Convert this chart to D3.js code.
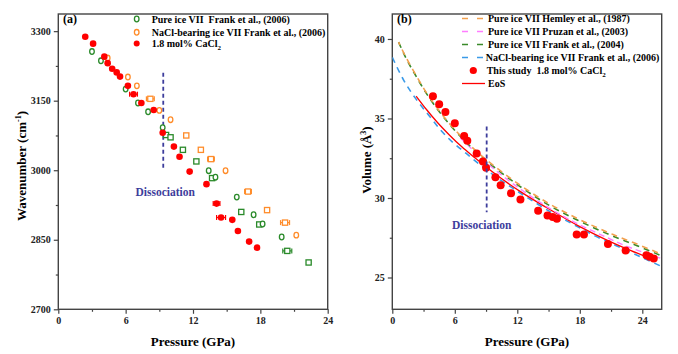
<!DOCTYPE html>
<html>
<head>
<meta charset="utf-8">
<script src="https://cdn.jsdelivr.net/npm/d3@7"></script>
<style>
  body { margin: 0; background: #fff; }
  svg text { font-family: "Liberation Serif", "Times New Roman", serif; font-weight: bold; }
</style>
</head>
<body>
<script>
// ---- panel (a) data : wavenumber vs pressure ----
var redP   = [2.4, 3.1, 4.1, 4.4, 4.8, 5.2, 5.5, 6.2, 6.7, 7.4, 8.5, 9.3, 10.3, 10.8, 11.7, 13.2, 14.1, 14.5, 15.5, 16.0, 17.0, 17.7];
var redW   = [3288, 3273, 3245, 3231, 3219, 3211, 3202, 3182, 3164, 3145, 3130, 3081, 3051, 3029, 2997, 2970, 2928, 2898, 2893, 2869, 2846, 2833];
var redErr = [0, 0, 0, 0, 0, 0, 0, 0, 0.35, 0, 0, 0, 0, 0, 0, 0, 0.3, 0.4, 0, 0, 0, 0];

var greenCircP = [3.0, 3.8, 6.0, 7.1, 8.0, 9.3, 13.4, 14.0, 15.9, 17.4, 18.2, 19.9];
var greenCircW = [3256, 3236, 3175, 3145, 3126, 3092, 2999, 2985, 2942, 2904, 2884, 2856];
var greenSqP   = [9.6, 10.0, 11.1, 12.3, 13.7, 16.3, 17.9, 20.4, 22.3];
var greenSqW   = [3076, 3071, 3044, 3019, 2983, 2910, 2883, 2826, 2801];
var greenSqErr = [0, 0, 0, 0, 0, 0, 0, 0.4, 0];

var orangeCircP = [4.4, 6.2, 7.0, 9.0, 10.0, 14.9, 21.2];
var orangeCircW = [3242, 3201, 3182, 3129, 3109, 2999, 2860];
var orangeSqP   = [8.2, 11.4, 12.7, 13.6, 16.9, 18.6, 20.2];
var orangeSqW   = [3154, 3075, 3044, 3024, 2954, 2914, 2887];
var orangeSqErr = [0.35, 0, 0, 0.3, 0.3, 0, 0.4];

var ticksA_x = [0, 6, 12, 18, 24];
var ticksA_y = [2700, 2850, 3000, 3150, 3300];

// ---- panel (b) data : volume vs pressure ----
var studyP = [3.9, 4.5, 5.1, 6.0, 6.9, 7.2, 8.1, 8.7, 9.0, 9.9, 10.4, 11.4, 12.3, 14.0, 14.9, 15.4, 15.8, 17.7, 18.4, 20.7, 22.4, 24.4, 24.7, 25.1];
var studyV = [36.4, 35.9, 35.4, 34.7, 33.9, 33.6, 32.8, 32.3, 31.9, 31.3, 30.8, 30.3, 29.9, 29.2, 28.9, 28.8, 28.7, 27.7, 27.7, 27.1, 26.7, 26.4, 26.3, 26.2];

var hemleyP = [0.6, 1.35, 2.2, 3.1, 4.2, 5.4, 6.8, 8.4, 10.3, 12.4, 14.9, 17.8, 21.2, 23.5, 25.9];
var hemleyV = [39.8, 38.8, 37.8, 36.8, 35.75, 34.75, 33.75, 32.75, 31.75, 30.75, 29.7, 28.7, 27.7, 27.1, 26.45];
var frank04V = [39.8, 38.75, 37.75, 36.75, 35.7, 34.7, 33.7, 32.7, 31.68, 30.66, 29.6, 28.6, 27.6, 27.0, 26.35];
var pruzanP = [6.5, 8, 10, 12, 14, 16, 18, 20, 22, 24, 25.8];
var pruzanV = [33.8, 32.85, 31.7, 30.7, 29.8, 29.0, 28.3, 27.7, 27.1, 26.6, 26.2];
var naclP = [0, 1.1, 2.3, 3.5, 4.6, 5.8, 7.1, 8.5, 10, 11.6, 13.5, 15.5, 17.5, 19.5, 21.5, 23.5, 26];
var naclV = [38.85, 37.4, 36.2, 35.2, 34.3, 33.5, 32.8, 32.05, 31.3, 30.6, 29.8, 29.0, 28.3, 27.6, 27.0, 26.4, 25.65];
var eosP = [2.3, 3.3, 4.4, 5.5, 6.7, 7.8, 9.7, 12.3, 14.8, 18.0, 20.6, 22.5, 24.8];
var eosV = [36.4, 35.55, 34.7, 33.95, 33.2, 32.6, 31.6, 30.4, 29.4, 28.2, 27.35, 26.8, 26.2];

var ticksB_x = [0, 6, 12, 18, 24];
var ticksB_y = [25, 30, 35, 40];

var RED = "#ff0000", GREEN = "#2a8a2a", ORANGE = "#ff8c2a", BLUE = "#3a9ae8",
    PINK = "#ff7dff", DGREEN = "#3a8a2a", LORANGE = "#f2a04e", DISS = "#3d3d9c", FRAME = "#444";

var svg = d3.select("body").append("svg").attr("width", 678).attr("height", 354);

function zip(a, b, c) { return a.map(function (v, i) { return {x: v, y: b[i], e: c ? c[i] : 0}; }); }

function frameAxes(g, x, y, xt, xminor, yt, yminor) {
  var ax = g.append("g").attr("transform", "translate(0," + y.range()[0] + ")");
  ax.call(d3.axisBottom(x).tickValues(xminor).tickSize(2.5).tickFormat(""));
  ax.call(function (s) { s.select(".domain").remove(); });
  var ax2 = g.append("g").attr("transform", "translate(0," + y.range()[0] + ")");
  ax2.call(d3.axisBottom(x).tickValues(xt).tickSize(4.5).tickPadding(3).tickFormat(d3.format("d")));
  ax2.select(".domain").remove();
  var ay = g.append("g").attr("transform", "translate(" + x.range()[0] + ",0)");
  ay.call(d3.axisLeft(y).tickValues(yminor).tickSize(2.5).tickFormat(""));
  ay.select(".domain").remove();
  var ay2 = g.append("g").attr("transform", "translate(" + x.range()[0] + ",0)");
  ay2.call(d3.axisLeft(y).tickValues(yt).tickSize(4.5).tickPadding(3).tickFormat(d3.format("d")));
  ay2.select(".domain").remove();
  g.selectAll(".tick line").attr("stroke", FRAME).attr("stroke-width", 1.2);
  g.selectAll(".tick text").attr("font-size", 10).attr("fill", "#222")
    .attr("font-family", "Liberation Serif").attr("font-weight", "bold");
  g.append("rect").attr("x", x.range()[0]).attr("y", y.range()[1])
    .attr("width", x.range()[1] - x.range()[0]).attr("height", y.range()[0] - y.range()[1])
    .attr("fill", "none").attr("stroke", FRAME).attr("stroke-width", 1.4);
}

function errBars(g, data, x, y, color) {
  var d = data.filter(function (p) { return p.e > 0; });
  g.selectAll(null).data(d).enter().append("line")
    .attr("x1", function (p) { return x(p.x - p.e); }).attr("x2", function (p) { return x(p.x + p.e); })
    .attr("y1", function (p) { return y(p.y); }).attr("y2", function (p) { return y(p.y); })
    .attr("stroke", color).attr("stroke-width", 1.2);
  [-1, 1].forEach(function (s) {
    g.selectAll(null).data(d).enter().append("line")
      .attr("x1", function (p) { return x(p.x + s * p.e); }).attr("x2", function (p) { return x(p.x + s * p.e); })
      .attr("y1", function (p) { return y(p.y) - 2.5; }).attr("y2", function (p) { return y(p.y) + 2.5; })
      .attr("stroke", color).attr("stroke-width", 1.2);
  });
}

// ================= panel (a) =================
var xa = d3.scaleLinear().domain([0, 24]).range([58.3, 327.7]);
var ya = d3.scaleLinear().domain([2700, 3337]).range([309.3, 14]);
var ga = svg.append("g");
frameAxes(ga, xa, ya, ticksA_x, [3, 9, 15, 21], ticksA_y, [2775, 2925, 3075, 3225]);

// dissociation marker
ga.append("line").attr("x1", xa(9.35)).attr("x2", xa(9.35)).attr("y1", ya(3210)).attr("y2", ya(3000))
  .attr("stroke", DISS).attr("stroke-width", 1.8).attr("stroke-dasharray", "4,3");
ga.append("text").attr("x", xa(9.35) + 2).attr("y", 196).attr("text-anchor", "middle")
  .attr("font-size", 11.5).attr("fill", DISS).text("Dissociation");

var gcirc = zip(greenCircP, greenCircW), gsq = zip(greenSqP, greenSqW, greenSqErr);
var ocirc = zip(orangeCircP, orangeCircW), osq = zip(orangeSqP, orangeSqW, orangeSqErr);
var rd = zip(redP, redW, redErr);

errBars(ga, gsq, xa, ya, GREEN);
errBars(ga, osq, xa, ya, ORANGE);
errBars(ga, rd, xa, ya, RED);

function openCircles(data, color) {
  ga.selectAll(null).data(data).enter().append("ellipse")
    .attr("cx", function (d) { return xa(d.x); }).attr("cy", function (d) { return ya(d.y); })
    .attr("rx", 2.3).attr("ry", 2.8).attr("fill", "#fff").attr("stroke", color).attr("stroke-width", 1.3);
}
function openSquares(data, color) {
  ga.selectAll(null).data(data).enter().append("rect")
    .attr("x", function (d) { return xa(d.x) - 2.6; }).attr("y", function (d) { return ya(d.y) - 2.6; })
    .attr("width", 5.2).attr("height", 5.2).attr("fill", "#fff").attr("stroke", color).attr("stroke-width", 1.3);
}
openSquares(gsq, GREEN);
openCircles(gcirc, GREEN);
openSquares(osq, ORANGE);
openCircles(ocirc, ORANGE);
ga.selectAll(null).data(rd).enter().append("circle")
  .attr("cx", function (d) { return xa(d.x); }).attr("cy", function (d) { return ya(d.y); })
  .attr("r", 3.3).attr("fill", RED);

// labels
ga.append("text").attr("x", 63).attr("y", 23).attr("font-size", 12).text("(a)");
ga.append("text").attr("x", 193).attr("y", 346).attr("text-anchor", "middle").attr("font-size", 13).text("Pressure (GPa)");
var yla = ga.append("text").attr("transform", "translate(26,166) rotate(-90)").attr("text-anchor", "middle").attr("font-size", 13);
yla.append("tspan").text("Wavenumber (cm");
yla.append("tspan").attr("font-size", 8).attr("dy", -5).text("-1");
yla.append("tspan").attr("dy", 5).text(")");

// legend (a)
var legA = ga.append("g");
legA.append("ellipse").attr("cx", 136.7).attr("cy", 19).attr("rx", 2.3).attr("ry", 2.8).attr("fill", "#fff").attr("stroke", GREEN).attr("stroke-width", 1.3);
legA.append("ellipse").attr("cx", 136.7).attr("cy", 32.3).attr("rx", 2.3).attr("ry", 2.8).attr("fill", "#fff").attr("stroke", ORANGE).attr("stroke-width", 1.3);
legA.append("circle").attr("cx", 136.7).attr("cy", 43.5).attr("r", 3).attr("fill", RED);
legA.append("text").attr("x", 151.7).attr("y", 22.5).attr("font-size", 10).attr("xml:space", "preserve").text("Pure ice VII  Frank et al., (2006)");
legA.append("text").attr("x", 151.7).attr("y", 35.8).attr("font-size", 10).text("NaCl-bearing ice VII Frank et al., (2006)");
var la3 = legA.append("text").attr("x", 151.7).attr("y", 47).attr("font-size", 10);
la3.append("tspan").text("1.8 mol% CaCl");
la3.append("tspan").attr("font-size", 7).attr("dy", 2.5).text("2");

// ================= panel (b) =================
var xb = d3.scaleLinear().domain([0, 24]).range([392.3, 642.3]);
xb.domain([0, xb.invert(661.7)]).range([392.3, 661.7]);
var yb = d3.scaleLinear().domain([23, 41.57]).range([309.3, 14]);
var gb = svg.append("g");
frameAxes(gb, xb, yb, ticksB_x, [3, 9, 15, 21], ticksB_y, [27.5, 32.5, 37.5]);

var clip = gb.append("clipPath").attr("id", "clipb").append("rect")
  .attr("x", 392.3).attr("y", 14).attr("width", 269.4).attr("height", 295.3);
var plotB = gb.append("g").attr("clip-path", "url(#clipb)");

var line = d3.line().x(function (d) { return xb(d.x); }).y(function (d) { return yb(d.y); }).curve(d3.curveMonotoneX);
plotB.append("path").datum(zip(naclP, naclV)).attr("d", line).attr("fill", "none")
  .attr("stroke", BLUE).attr("stroke-width", 1.6).attr("stroke-dasharray", "6,5");
plotB.append("path").datum(zip(eosP, eosV)).attr("d", line).attr("fill", "none")
  .attr("stroke", RED).attr("stroke-width", 1.3);
plotB.append("path").datum(zip(pruzanP, pruzanV)).attr("d", line).attr("fill", "none")
  .attr("stroke", PINK).attr("stroke-width", 1.4).attr("stroke-dasharray", "6,4");
plotB.append("path").datum(zip(hemleyP, frank04V)).attr("d", line).attr("fill", "none")
  .attr("stroke", DGREEN).attr("stroke-width", 1.6).attr("stroke-dasharray", "6,5");
plotB.append("path").datum(zip(hemleyP, hemleyV)).attr("d", line).attr("fill", "none")
  .attr("stroke", LORANGE).attr("stroke-width", 1.6).attr("stroke-dasharray", "6,5").attr("stroke-dashoffset", 3);

plotB.selectAll(null).data(zip(studyP, studyV)).enter().append("circle")
  .attr("cx", function (d) { return xb(d.x); }).attr("cy", function (d) { return yb(d.y); })
  .attr("r", 4).attr("fill", RED);

gb.append("line").attr("x1", xb(9.06)).attr("x2", xb(9.06)).attr("y1", yb(34.5)).attr("y2", yb(29.1))
  .attr("stroke", DISS).attr("stroke-width", 1.8).attr("stroke-dasharray", "4,3");
gb.append("text").attr("x", 481.7).attr("y", 229).attr("text-anchor", "middle")
  .attr("font-size", 11.5).attr("fill", DISS).text("Dissociation");

gb.append("text").attr("x", 397).attr("y", 23).attr("font-size", 12).text("(b)");
gb.append("text").attr("x", 527).attr("y", 346).attr("text-anchor", "middle").attr("font-size", 13).text("Pressure (GPa)");
var ylb = gb.append("text").attr("transform", "translate(371,160) rotate(-90)").attr("text-anchor", "middle").attr("font-size", 13);
ylb.append("tspan").text("Volume (Å");
ylb.append("tspan").attr("font-size", 8).attr("dy", -5).text("3");
ylb.append("tspan").attr("dy", 5).text(")");

// legend (b)
var legNames = ["Pure ice VII Hemley et al., (1987)", "Pure ice VII Pruzan et al., (2003)",
                "Pure ice VII Frank et al., (2004)", "NaCl-bearing ice VII Frank et al., (2006)"];
var legColors = [LORANGE, PINK, DGREEN, BLUE];
var legB = gb.append("g");
legNames.forEach(function (name, i) {
  var yy = 18.5 + i * 13;
  legB.append("line").attr("x1", 462).attr("x2", 484).attr("y1", yy).attr("y2", yy)
    .attr("stroke", legColors[i]).attr("stroke-width", 1.6).attr("stroke-dasharray", "6,9");
  legB.append("text").attr("x", i === 3 ? 485.7 : 488).attr("y", yy + 3.5).attr("font-size", 10).text(name);
});
legB.append("circle").attr("cx", 473.3).attr("cy", 70.5).attr("r", 3.6).attr("fill", RED);
var lb5 = legB.append("text").attr("x", 486.7).attr("y", 74).attr("font-size", 10).attr("xml:space", "preserve");
lb5.append("tspan").text("This study  1.8 mol% CaCl");
lb5.append("tspan").attr("font-size", 7).attr("dy", 2.5).text("2");
legB.append("line").attr("x1", 462).attr("x2", 485).attr("y1", 83.5).attr("y2", 83.5).attr("stroke", RED).attr("stroke-width", 1.3);
legB.append("text").attr("x", 488).attr("y", 87).attr("font-size", 10).text("EoS");
</script>
</body>
</html>
